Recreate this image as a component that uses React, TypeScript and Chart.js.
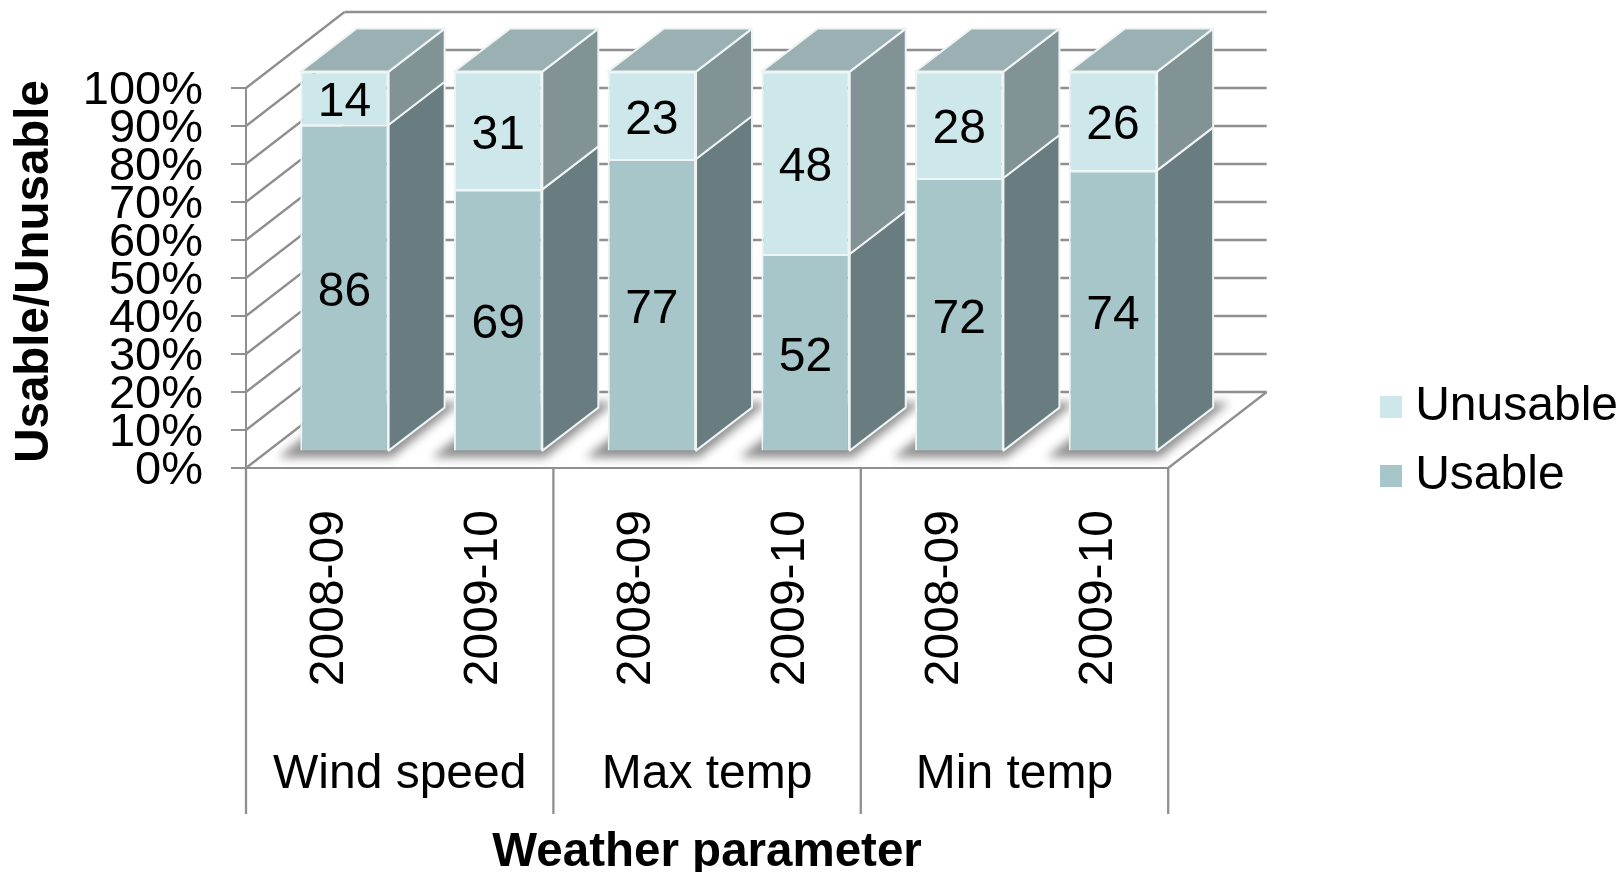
import React, { useEffect, useRef } from "react";
import { Chart, registerables } from "chart.js";

Chart.register(...registerables);

const categories = ["2008-09", "2009-10", "2008-09", "2009-10", "2008-09", "2009-10"];
const groups = ["Wind speed", "Max temp", "Min temp"];
const usable = [86, 69, 77, 52, 72, 74];
const unusable = [14, 31, 23, 48, 28, 26];
const yTicksStep = 10;

const FONT = "'Liberation Sans', Arial, sans-serif";
const FS = 48;
const GREY = "#8f8f8f";
const EDGE = "#eef4f4";
const WALL = { x: 98.5, y: -76 };
const BAR_OFF = { x: 21.6, y: -16.4 };
const BAR_DEPTH = { x: 56, y: -43 };

const sideColors = ["#697c7f", "#819395"];
const TOP_COLOR = "#9ab0b3";

function line(ctx: CanvasRenderingContext2D, a: number, b: number, c: number, d: number) {
  ctx.beginPath();
  ctx.moveTo(a, b);
  ctx.lineTo(c, d);
  ctx.stroke();
}

function poly(ctx: CanvasRenderingContext2D, pts: number[][]) {
  ctx.beginPath();
  pts.forEach((p, i) => (i ? ctx.lineTo(p[0], p[1]) : ctx.moveTo(p[0], p[1])));
  ctx.closePath();
}

const threeD = {
  id: "threeD",
  beforeDatasetsDraw(chart: any) {
    const { ctx, chartArea: a } = chart;
    const y = chart.scales.y;
    const x = chart.scales.x;
    ctx.save();
    ctx.strokeStyle = GREY;
    ctx.lineWidth = 2.3;
    y.ticks.forEach((t: any) => {
      const py = y.getPixelForValue(t.value);
      line(ctx, a.left, py, a.left + WALL.x, py + WALL.y);
      line(ctx, a.left + WALL.x, py + WALL.y, a.right + WALL.x, py + WALL.y);
    });
    line(ctx, a.right, a.bottom, a.right + WALL.x, a.bottom + WALL.y);
    // group dividers below the floor
    const step = (a.right - a.left) / categories.length;
    for (let i = 0; i <= categories.length; i += 2) {
      const px = i < categories.length ? x.getPixelForValue(i) - step / 2 : x.getPixelForValue(i - 1) + step / 2;
      line(ctx, px, a.bottom, px, 814);
    }
    ctx.restore();

    ctx.save();
    ctx.translate(BAR_OFF.x, BAR_OFF.y);
    const metas = [chart.getDatasetMeta(0), chart.getDatasetMeta(1)];
    // soft floor shadows
    ctx.save();
    ctx.filter = "blur(5px)";
    ctx.fillStyle = "#8e8e8e";
    metas[0].data.forEach((el: any) => {
      const x0 = el.x - el.width / 2;
      const x1 = el.x + el.width / 2;
      const b = el.base;
      poly(ctx, [
        [x0 - 22, b + 7],
        [x1 + 3, b + 7],
        [x1 + 72, b - 48],
        [x0 + 48, b - 48],
      ]);
      ctx.fill();
    });
    ctx.restore();
    // side and top faces
    ctx.strokeStyle = EDGE;
    ctx.lineWidth = 2;
    ctx.lineJoin = "round";
    metas.forEach((meta: any, k: number) => {
      meta.data.forEach((el: any) => {
        const r = el.x + el.width / 2;
        const l = el.x - el.width / 2;
        ctx.fillStyle = sideColors[k];
        poly(ctx, [
          [r, el.y],
          [r + BAR_DEPTH.x, el.y + BAR_DEPTH.y],
          [r + BAR_DEPTH.x, el.base + BAR_DEPTH.y],
          [r, el.base],
        ]);
        ctx.fill();
        ctx.stroke();
        if (k === 1) {
          ctx.fillStyle = TOP_COLOR;
          poly(ctx, [
            [l, el.y],
            [r, el.y],
            [r + BAR_DEPTH.x, el.y + BAR_DEPTH.y],
            [l + BAR_DEPTH.x, el.y + BAR_DEPTH.y],
          ]);
          ctx.fill();
          ctx.stroke();
        }
      });
    });
    // bars drawn by Chart.js follow in this shifted frame
  },
  afterDatasetsDraw(chart: any) {
    const { ctx } = chart;
    ctx.restore();
    ctx.save();
    ctx.fillStyle = "#000";
    ctx.font = `${FS}px ${FONT}`;
    ctx.textAlign = "center";
    ctx.textBaseline = "middle";
    chart.data.datasets.forEach((ds: any, k: number) => {
      chart.getDatasetMeta(k).data.forEach((el: any, i: number) => {
        ctx.fillText(String(ds.data[i]), el.x + BAR_OFF.x, (el.y + el.base) / 2 + BAR_OFF.y + 5);
      });
    });
    ctx.restore();
  },
};

function swatch(color: string) {
  const c = document.createElement("canvas");
  c.width = 22;
  c.height = 22;
  const g = c.getContext("2d")!;
  g.fillStyle = color;
  g.fillRect(0, 0, 22, 22);
  return c;
}

export default function App() {
  const ref = useRef<HTMLCanvasElement>(null);
  useEffect(() => {
    const chart = new Chart(ref.current!, {
      type: "bar",
      data: {
        labels: categories,
        datasets: [
          { label: "Usable", data: usable, backgroundColor: "#a6c6c9", borderColor: EDGE, borderWidth: 2, clip: false, stack: "s" } as any,
          { label: "Unusable", data: unusable, backgroundColor: "#cee7eb", borderColor: EDGE, borderWidth: 2, clip: false, stack: "s" } as any,
        ],
      },
      plugins: [threeD as any],
      options: {
        responsive: false,
        animation: false,
        devicePixelRatio: 1,
        categoryPercentage: 1,
        barPercentage: 0.575,
        layout: { padding: { top: 10, left: 0, right: -9, bottom: 0 } },
        scales: {
          x: {
            stacked: true,
            weight: 0,
            grid: { display: false, drawTicks: false },
            border: { display: true, color: GREY, width: 2 },
            ticks: {
              minRotation: 90,
              maxRotation: 90,
              autoSkip: false,
              padding: 42,
              labelOffset: 7,
              color: "#000",
              font: { family: FONT, size: FS },
            },
            afterFit: (s: any) => {
              s.height = 270;
            },
          },
          x2: {
            type: "category",
            labels: groups,
            offset: true,
            position: "bottom",
            weight: 1,
            grid: { display: false, drawTicks: false },
            border: { display: false },
            ticks: { padding: 8, color: "#000", autoSkip: false, maxRotation: 0, font: { family: FONT, size: FS } },
            title: {
              display: true,
              text: "Weather parameter",
              color: "#000",
              font: { family: FONT, size: 47.5, weight: "bold" },
              padding: { top: 0, bottom: -9 },
            },
            afterFit: (s: any) => {
              s.height = 134;
            },
          },
          xt: {
            type: "category",
            labels: groups,
            position: "top",
            grid: { display: false, drawTicks: false },
            border: { display: false },
            ticks: { display: false },
            afterFit: (s: any) => {
              s.height = 78;
            },
          },
          y: {
            stacked: true,
            min: 0,
            max: 100,
            grid: { drawOnChartArea: false, color: GREY, tickLength: 15, lineWidth: 2 },
            border: { color: GREY, width: 2 },
            ticks: {
              stepSize: yTicksStep,
              autoSkip: false,
              padding: 28,
              labelOffset: 3.5,
              color: "#000",
              font: { family: FONT, size: 47 },
              callback: (v: any) => v + "%",
            },
            title: {
              display: true,
              text: " Usable/Unusable",
              color: "#000",
              font: { family: FONT, size: 47.5, weight: "bold" },
              padding: { top: 6, bottom: 0 },
            },
            afterFit: (s: any) => {
              s.width = 246;
            },
          },
          yr: {
            type: "linear",
            position: "right",
            display: true,
            grid: { display: false, drawTicks: false },
            border: { display: false },
            ticks: { display: false },
            afterFit: (s: any) => {
              s.width = 201;
            },
          },
        },
        plugins: {
          tooltip: { enabled: false },
          legend: {
            position: "right",
            reverse: true,
            labels: {
              usePointStyle: true,
              boxWidth: 1,
              boxHeight: 22,
              padding: 21,
              color: "#000",
              font: { family: FONT, size: FS },
              generateLabels: (c: any) =>
                Chart.defaults.plugins.legend.labels
                  .generateLabels(c)
                  .map((item: any) => ({ ...item, pointStyle: swatch(item.fillStyle) })),
            },
          },
        },
      } as any,
    });
    return () => chart.destroy();
  }, []);
  return (
    <canvas
      ref={ref}
      width={1619}
      height={872}
      style={{ position: "absolute", left: 0, top: 0, display: "block" }}
    />
  );
}
